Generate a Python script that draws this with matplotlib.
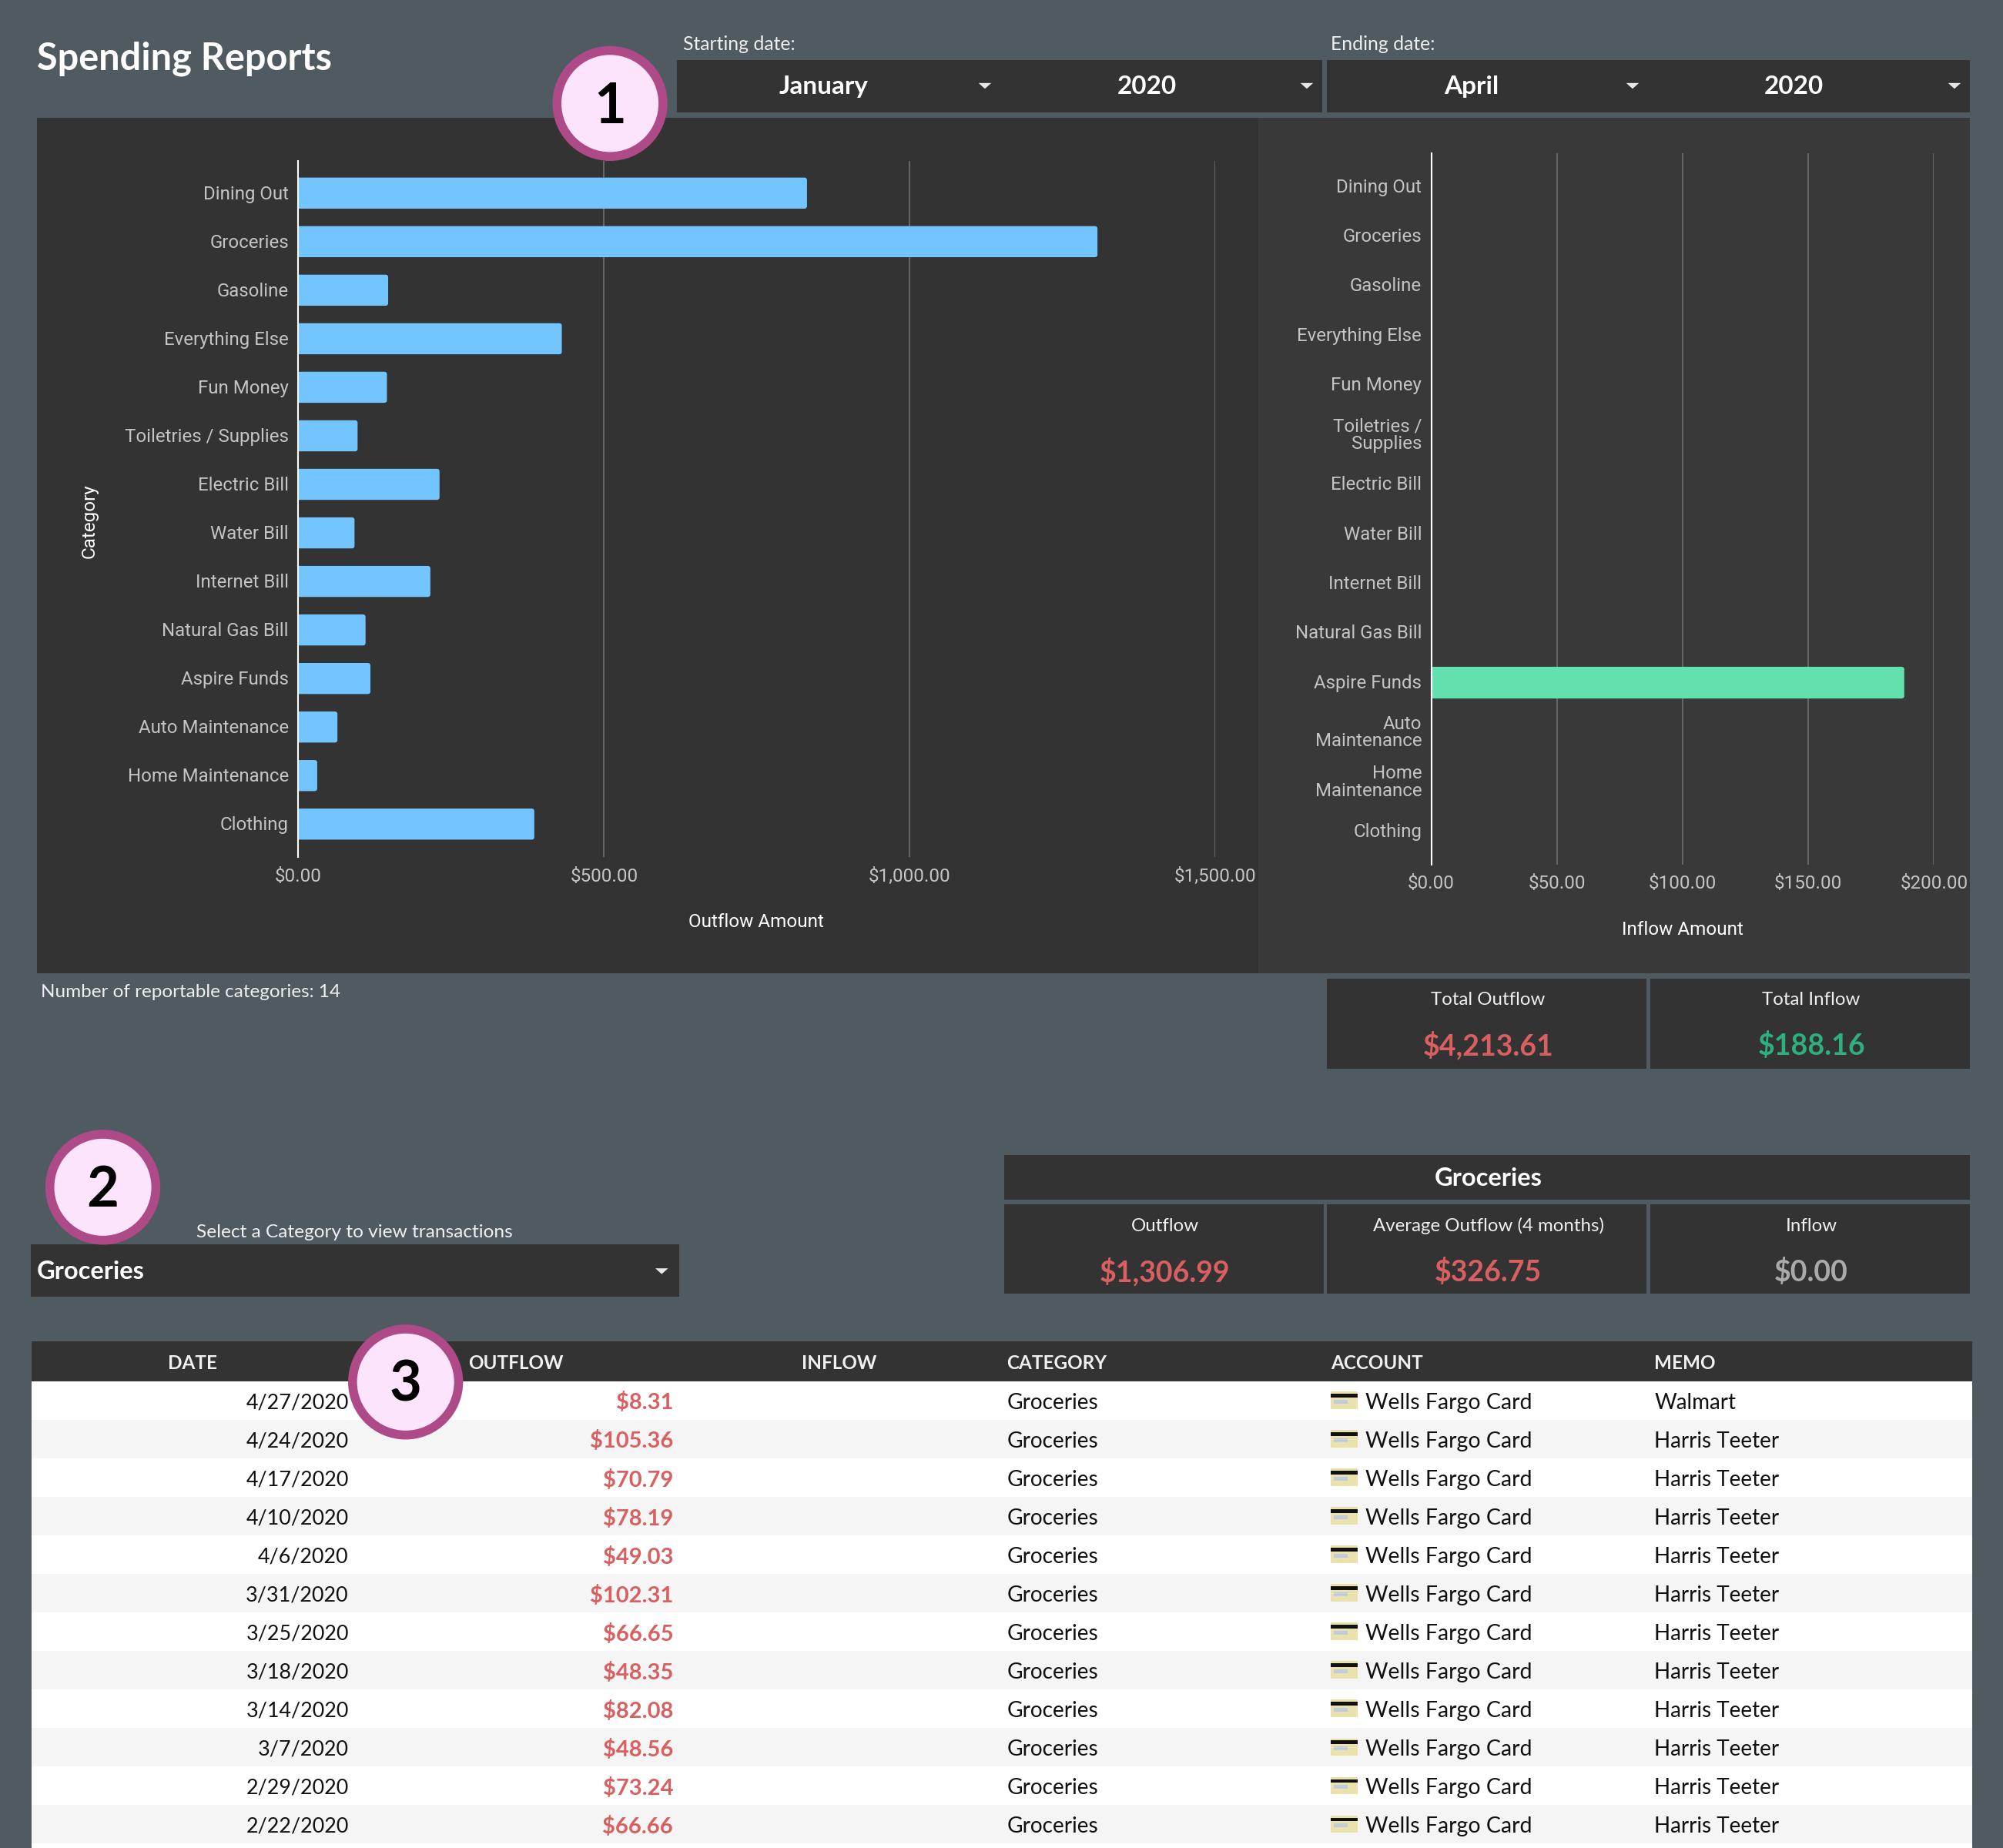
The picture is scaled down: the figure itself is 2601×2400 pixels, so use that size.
import matplotlib
matplotlib.use('Agg')
import matplotlib.pyplot as plt
from matplotlib.patches import Rectangle, Circle, Polygon, FancyBboxPatch
from matplotlib.ticker import FuncFormatter
from matplotlib.transforms import ScaledTranslation

# --- data ---
categories = ['Dining Out', 'Groceries', 'Gasoline', 'Everything Else', 'Fun Money',
              'Toiletries / Supplies', 'Electric Bill', 'Water Bill', 'Internet Bill',
              'Natural Gas Bill', 'Aspire Funds', 'Auto Maintenance', 'Home Maintenance', 'Clothing']
categories_wrapped = ['Dining Out', 'Groceries', 'Gasoline', 'Everything Else', 'Fun Money',
                      'Toiletries /\nSupplies', 'Electric Bill', 'Water Bill', 'Internet Bill',
                      'Natural Gas Bill', 'Aspire Funds', 'Auto\nMaintenance', 'Home\nMaintenance', 'Clothing']
outflow = [832, 1306.99, 147, 431, 145, 97, 231, 92, 216, 110, 118, 64, 31, 386]
inflow = [0, 0, 0, 0, 0, 0, 0, 0, 0, 0, 188.16, 0, 0, 0]
outflow_ticks = [0, 500, 1000, 1500]
inflow_ticks = [0, 50, 100, 150, 200]

dates = ['4/27/2020', '4/24/2020', '4/17/2020', '4/10/2020', '4/6/2020', '3/31/2020',
         '3/25/2020', '3/18/2020', '3/14/2020', '3/7/2020', '2/29/2020', '2/22/2020']
amounts = ['$8.31', '$105.36', '$70.79', '$78.19', '$49.03', '$102.31',
           '$66.65', '$48.35', '$82.08', '$48.56', '$73.24', '$66.66']
memos = ['Walmart'] + ['Harris Teeter'] * 11

# --- colours ---
BG = '#505a61'
PANEL = '#333333'
PANEL2 = '#393939'
BLUE = '#72c5ff'
GREEN = '#62e0ad'
RED = '#d95f60'
DGREEN = '#2eaf7d'
TICK = '#c4c4c4'
UI = 'Lato'
CHART = 'Roboto'

S = 2601 / 1568  # layout was measured on a 1568 wide view


def make_axes(x0, y_top, x1, y_bottom):
    return fig.add_axes([x0 * S / 2601, 1 - y_bottom * S / 2400,
                         (x1 - x0) * S / 2601, (y_bottom - y_top) * S / 2400])


fig = plt.figure(figsize=(26.01, 24), dpi=100, facecolor=BG)

# background layer, coordinates in view units
bg = fig.add_axes([0, 0, 1, 1], zorder=0)
bg.set_xlim(0, 1568)
bg.set_ylim(2400 / S, 0)
bg.axis('off')


def box(ax, x0, y0, x1, y1, color):
    ax.add_patch(Rectangle((x0, y0), x1 - x0, y1 - y0, facecolor=color, edgecolor='none'))


def label(ax, x, y, s, size=15, color='white', ha='center', weight='normal', family=UI, **kw):
    # text sits a little low in the original, 1.8 units
    ax.text(x, y + 1.8, s, fontsize=size, color=color, ha=ha, va='center', fontweight=weight,
            family=family, **kw)


def caret(ax, x, y):
    ax.add_patch(Polygon([(x - 5, y - 2), (x + 5, y - 2), (x, y + 2.5)], facecolor='#e8e8e8', edgecolor='none'))


def card(ax, x0, x1, y0, y1, title, value, color, ty, vy):
    box(ax, x0, y0, x1, y1, PANEL)
    mid = (x0 + x1) / 2 + 1
    label(ax, mid, ty, title, size=17.3, color='#f0f0f0')
    label(ax, mid, vy, value, size=27, color=color, weight='bold')


# header
label(bg, 29, 44, 'Spending Reports', size=35, ha='left', weight='bold')
label(bg, 535, 33, 'Starting date:', size=17.8, ha='left', color='#f0f0f0')
label(bg, 1042, 33, 'Ending date:', size=17.8, ha='left', color='#f0f0f0')
box(bg, 530, 47, 1035, 88, PANEL)
box(bg, 1039, 47, 1542, 88, PANEL)
for x, s in [(645, 'January'), (898, '2020'), (1152, 'April'), (1404, '2020')]:
    label(bg, x, 66, s, size=24, weight='bold')
for x in [771, 1023, 1278, 1530]:
    caret(bg, x, 67)

# chart panels
box(bg, 29, 92, 985, 762, PANEL)
box(bg, 985, 92, 1542, 762, PANEL2)
label(bg, 32, 775, 'Number of reportable categories: 14', size=17.5, ha='left', color='#f0f0f0')


def money(v, pos=None):
    return f'${v:,.2f}'


def bar_chart(ax, names, values, ticks, color, xlim, ylim, xpad, label_up):
    ypos = list(range(len(names)))
    ax.set_facecolor('none')
    ax.set_xlim(*xlim)
    ax.set_ylim(*ylim)
    # bars have slightly rounded corners, so round boxes instead of plain barh
    box_px = ax.get_window_extent()
    per_px_x = (xlim[1] - xlim[0]) / box_px.width
    per_px_y = abs(ylim[1] - ylim[0]) / box_px.height
    r = 3.5 * per_px_x
    for y, v in zip(ypos, values):
        if v <= 0:
            continue
        ax.add_patch(FancyBboxPatch((-2 * r, y - 0.32), v + 2 * r, 0.64,
                                    boxstyle=f'round,pad=0,rounding_size={r}',
                                    mutation_aspect=per_px_y / per_px_x,
                                    facecolor=color, edgecolor='none', zorder=3))
    ax.set_yticks(ypos)
    ax.set_yticklabels(names, fontsize=17.3, color=TICK, family=CHART, linespacing=0.97, ma='right')
    ax.set_xticks(ticks)
    ax.xaxis.set_major_formatter(FuncFormatter(money))
    for t in ax.get_xticklabels():
        t.set_fontsize(17.5)
        t.set_color(TICK)
        t.set_family(CHART)
    ax.grid(axis='x', color='#6a6a6a', linewidth=1.3, zorder=1)
    ax.set_axisbelow(True)
    ax.tick_params(axis='both', length=0)
    ax.tick_params(axis='y', pad=9)
    ax.tick_params(axis='x', pad=xpad)
    # nudge the category names up, independent of the bars
    nudge = ScaledTranslation(0, label_up * S / 100, fig.dpi_scale_trans)
    for t in ax.get_yticklabels():
        t.set_transform(t.get_transform() + nudge)
    for side in ['top', 'right', 'bottom']:
        ax.spines[side].set_visible(False)
    ax.spines['left'].set_color('white')
    ax.spines['left'].set_linewidth(1.5)
    ax.spines['left'].set_zorder(5)


ax_out = make_axes(233.5, 125.7, 951.5, 670.7)
bar_chart(ax_out, categories, outflow, outflow_ticks, BLUE, (0, 1500), (13.671, -0.671), 10.5, 0.7)
ax_in = make_axes(1120.5, 120, 1514, 677)
bar_chart(ax_in, categories_wrapped, inflow, inflow_ticks, GREEN, (0, 200), (13.67, -0.67), 9, 1)

label(bg, 592, 720, 'Outflow Amount', size=17.5, family=CHART)
label(bg, 1317, 726, 'Inflow Amount', size=17.5, family=CHART)
label(bg, 70, 406, 'Category', size=17.5, family=CHART, rotation=90)

# totals
card(bg, 1039, 1289, 766, 837, 'Total Outflow', '$4,213.61', RED, 781, 817)
card(bg, 1292, 1542, 766, 837, 'Total Inflow', '$188.16', DGREEN, 781, 817)

# category section
label(bg, 154, 963, 'Select a Category to view transactions', size=17.6, ha='left', color='#f0f0f0')
box(bg, 24, 974, 532, 1015, PANEL)
label(bg, 29, 994, 'Groceries', size=23.5, ha='left', weight='bold')
caret(bg, 518, 995)
box(bg, 786, 904, 1542, 939, PANEL)
label(bg, 1165, 921, 'Groceries', size=23.5, weight='bold')
card(bg, 786, 1036, 943, 1013, 'Outflow', '$1,306.99', RED, 958, 994)
card(bg, 1039, 1289, 943, 1013, 'Average Outflow (4 months)', '$326.75', RED, 958, 994)
card(bg, 1292, 1542, 943, 1013, 'Inflow', '$0.00', '#aaaaaa', 958, 994)

# table
box(bg, 25, 1050, 1544, 1081.5, PANEL)
for x, s in [(151, 'DATE'), (404, 'OUTFLOW'), (657, 'INFLOW')]:
    label(bg, x, 1065.5, s, size=17.5, weight='bold', color='#f0f0f0')
for x, s in [(788, 'CATEGORY'), (1042, 'ACCOUNT'), (1295, 'MEMO')]:
    label(bg, x, 1065.5, s, size=17.5, ha='left', weight='bold', color='#f0f0f0')

row_h = 30.15
box(bg, 25, 1081.5, 1544, 2400 / S, 'white')
for i, (d, a, m) in enumerate(zip(dates, amounts, memos)):
    top = 1081.5 + i * row_h
    mid = top + row_h / 2
    if i % 2 == 1:
        box(bg, 25, top, 1544, top + row_h, '#f5f5f5')
    label(bg, 273, mid, d, size=19.4, ha='right', color='#111111')
    label(bg, 527, mid, a, size=21, ha='right', color=RED, weight='bold')
    label(bg, 788, mid, 'Groceries', size=20.2, ha='left', color='#111111')
    # little credit card icon
    box(bg, 1042, mid - 7, 1063, mid + 6.5, '#e9e2ad')
    box(bg, 1042, mid - 5.2, 1063, mid - 2.4, '#111111')
    box(bg, 1044, mid - 0.5, 1055, mid + 2.5, '#c3cbdc')
    label(bg, 1069, mid, 'Wells Fargo Card', size=20.5, ha='left', color='#111111')
    label(bg, 1295, mid, m, size=20, ha='left', color='#111111')

# numbered badges sit above everything
top_layer = fig.add_axes([0, 0, 1, 1], zorder=10)
top_layer.set_xlim(0, 1568)
top_layer.set_ylim(2400 / S, 0)
top_layer.axis('off')
for x, y, s in [(477.5, 81, '1'), (80.5, 929.5, '2'), (317.5, 1082, '3')]:
    top_layer.add_patch(Circle((x, y), 45, facecolor='#ad4a87', edgecolor='none'))
    top_layer.add_patch(Circle((x, y), 38, facecolor='#fde4fd', edgecolor='none'))
    label(top_layer, x, y + 1, s, size=52, color='black', weight='bold')

fig.savefig('out.png', dpi=100, facecolor=BG)
